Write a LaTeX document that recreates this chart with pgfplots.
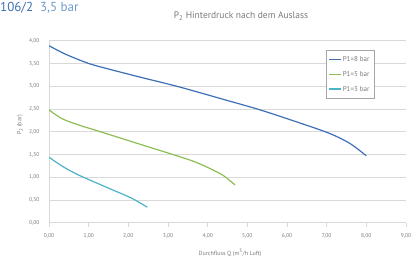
\documentclass[border=0pt]{standalone}
\usepackage{pgfplots}
\pgfplotsset{compat=1.18}
\usepackage{fontspec}
\setmainfont{PT Sans}
\definecolor{cblue}{HTML}{3D6FB6}
\definecolor{cgreen}{HTML}{8DBD55}
\definecolor{ccyan}{HTML}{4DB3C8}
\definecolor{ctext}{HTML}{7A7A7A}
\definecolor{cgrid}{HTML}{D9D9D9}
\definecolor{ctitle}{HTML}{6E9AD0}
\begin{document}
\begin{tikzpicture}
\path[use as bounding box] (0,0) rectangle (411pt,260pt);
\begin{axis}[
  at={(49pt,37.3pt)}, anchor=south west,
  scale only axis, width=357pt, height=182pt,
  xmin=0, xmax=9, ymin=0, ymax=4,
  xtick={0,1,...,9}, ytick={0,0.5,...,4},
  /pgf/number format/.cd, fixed, fixed zerofill, precision=2, use comma, assume math mode=true,
  /pgfplots/.cd,
  ticklabel style={font=\fontsize{5.5}{6}\selectfont, text=ctext},
  xticklabel style={yshift=-3pt},
  yticklabel style={xshift=-2pt},
  ymajorgrids, grid style={cgrid, line width=0.8pt},
  axis x line*=bottom, axis y line*=left,
  axis line style={cgrid, line width=0.8pt},
  tick style={cgrid, line width=0.6pt},
  tick align=outside, major tick length=4pt,
  ytick style={draw=none},
  legend style={at={(0.775,0.949)}, anchor=north west, draw=gray!70,
    font=\fontsize{7}{8}\selectfont, text=ctext, inner xsep=3pt, inner ysep=4pt,
    row sep=4.5pt, cells={anchor=west}},
]
\addlegendimage{legend image code/.code={\fill[fill=cblue, draw=none] (0,-0.9pt) rectangle (0.42cm,0.9pt);}}
\addlegendentry{P1=8 bar}
\addlegendimage{legend image code/.code={\fill[fill=cgreen, draw=none] (0,-0.9pt) rectangle (0.42cm,0.9pt);}}
\addlegendentry{P1=5 bar}
\addlegendimage{legend image code/.code={\fill[fill=ccyan, draw=none] (0,-0.9pt) rectangle (0.42cm,0.9pt);}}
\addlegendentry{P1=3 bar}
\addplot[draw=cblue, line width=1.2pt, smooth, forget plot] coordinates {
(0,3.89) (0.4,3.71) (1.0,3.50) (1.58,3.36) (2.34,3.19) (3.26,2.99) (4.44,2.70) (5.32,2.48) (6.33,2.19) (7.08,1.96) (7.59,1.74) (8.0,1.47)};
\addplot[draw=cgreen, line width=1.2pt, smooth, forget plot] coordinates {
(0,2.48) (0.32,2.29) (0.74,2.15) (1.33,1.99) (2.42,1.69) (3.30,1.45) (3.70,1.33) (4.06,1.19) (4.39,1.04) (4.69,0.83)};
\addplot[draw=ccyan, line width=1.2pt, smooth, forget plot] coordinates {
(0,1.44) (0.32,1.25) (0.74,1.05) (1.58,0.73) (2.08,0.54) (2.48,0.34)};
\end{axis}
\node[anchor=west, inner sep=0pt] at (0pt,252pt) {\fontsize{13}{14}\selectfont\color{cblue}106/2\ \ \color{ctitle}3,5 bar};
\node[inner sep=0pt, text=ctext] at (241pt,244pt) {\fontsize{9.5}{11}\selectfont P\textsubscript{2} Hinterdruck nach dem Auslass};
\node[inner sep=0pt, text=ctext, rotate=90] at (20pt,135pt) {\fontsize{6}{7}\selectfont P\textsubscript{2} (bar)};
\node[inner sep=0pt, text=ctext] at (230pt,7pt) {\fontsize{6}{7}\selectfont Durchfluss Q (m\textsuperscript{3}/h Luft)};
\end{tikzpicture}
\end{document}
